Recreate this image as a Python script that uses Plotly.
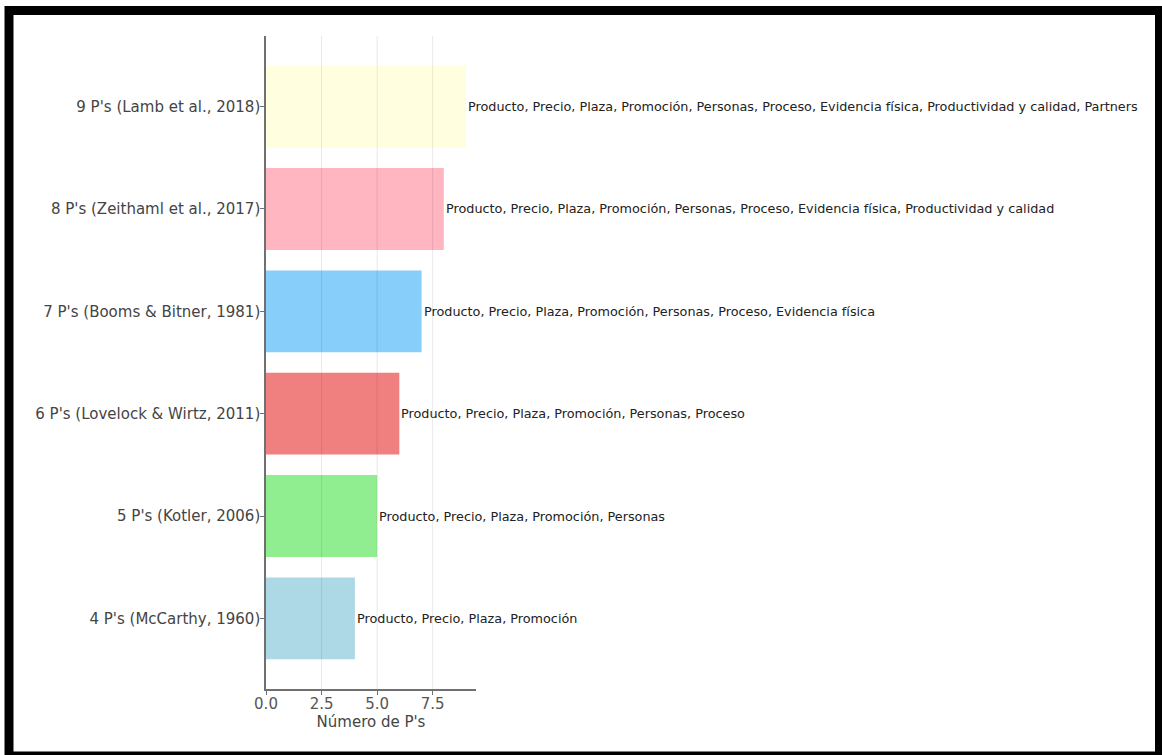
import plotly.graph_objects as go

# Marketing-mix models, bottom to top
categories = [
    "4 P's (McCarthy, 1960)",
    "5 P's (Kotler, 2006)",
    "6 P's (Lovelock & Wirtz, 2011)",
    "7 P's (Booms & Bitner, 1981)",
    "8 P's (Zeithaml et al., 2017)",
    "9 P's (Lamb et al., 2018)",
]
num_ps = [4, 5, 6, 7, 8, 9]
elements = [
    "Producto, Precio, Plaza, Promoción",
    "Producto, Precio, Plaza, Promoción, Personas",
    "Producto, Precio, Plaza, Promoción, Personas, Proceso",
    "Producto, Precio, Plaza, Promoción, Personas, Proceso, Evidencia física",
    "Producto, Precio, Plaza, Promoción, Personas, Proceso, Evidencia física, Productividad y calidad",
    "Producto, Precio, Plaza, Promoción, Personas, Proceso, Evidencia física, Productividad y calidad, Partners",
]
bar_colors = ["#ADD8E6", "#90EE90", "#F08080", "#87CEFA", "#FFB6C1", "#FFFFE0"]
x_ticks = [0.0, 2.5, 5.0, 7.5]
x_tick_text = ["0.0", "2.5", "5.0", "7.5"]
x_title = "Número de P's"

FONT = "DejaVu Sans"
W, H = 1162, 755
ML, MR, MT, MB = 266, 686, 36, 66

fig = go.Figure()
fig.add_trace(go.Bar(
    y=list(range(len(categories))),
    x=num_ps,
    orientation="h",
    width=0.8,
    marker=dict(color=bar_colors, line=dict(width=0)),
    hoverinfo="skip",
))

# Element lists written just past the end of each bar
for i, (v, txt) in enumerate(zip(num_ps, elements)):
    fig.add_annotation(
        x=v, y=i, xref="x", yref="y", text=txt, showarrow=False,
        xanchor="left", yanchor="middle", xshift=0,
        font=dict(family=FONT, size=12.8, color="#222222"),
    )

# Vertical grid drawn over the bars
for t in x_ticks[1:]:
    fig.add_shape(type="line", xref="x", yref="paper", x0=t, x1=t, y0=0, y1=1,
                  line=dict(color="rgba(0,0,0,0.09)", width=1), layer="above")

# Heavy black frame around the whole figure
pw, ph = W - ML - MR, H - MT - MB
def px_x(p):
    return (p - ML) / pw
def px_y(p):
    return (H - MB - p) / ph
fig.add_shape(type="rect", xref="paper", yref="paper",
              x0=px_x(9), x1=px_x(1159.5), y0=px_y(10.5), y1=px_y(756),
              line=dict(color="black", width=9), fillcolor="rgba(0,0,0,0)", layer="above")

fig.update_layout(
    width=W, height=H,
    margin=dict(l=ML, r=MR, t=MT, b=MB),
    paper_bgcolor="white", plot_bgcolor="white",
    showlegend=False,
    font=dict(family=FONT, size=15, color="#444444"),
    xaxis=dict(
        range=[0, 9.45], tickvals=x_ticks, ticktext=x_tick_text,
        showgrid=False, zeroline=False,
        showline=True, linecolor="#707070", linewidth=1.5,
        ticks="outside", ticklen=4, tickcolor="#707070",
        ticklabelstandoff=-4,
        tickfont=dict(family=FONT, size=15, color="#555555"),
        title=dict(text=x_title, font=dict(family=FONT, size=15, color="#444444"), standoff=0),
    ),
    yaxis=dict(
        range=[-0.69, 5.69], tickvals=list(range(len(categories))), ticktext=categories,
        showgrid=False, zeroline=False,
        showline=True, linecolor="#707070", linewidth=1.5,
        ticks="outside", ticklen=4, tickcolor="#707070",
        ticklabelstandoff=-3,
        tickfont=dict(family=FONT, size=15, color="#444444"),
    ),
)

fig.write_html("out.html")
